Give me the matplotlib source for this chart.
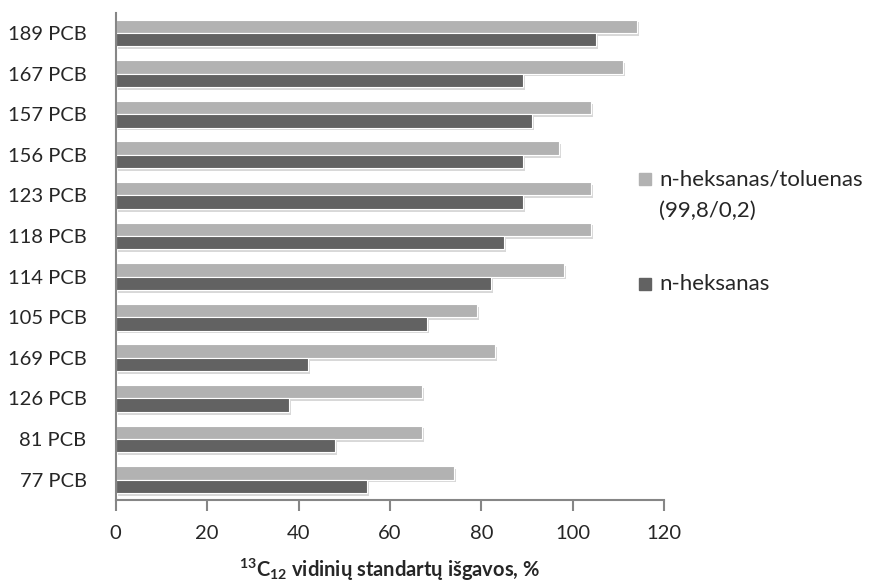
import numpy as np
import matplotlib
matplotlib.use("Agg")
import matplotlib.pyplot as plt
from matplotlib import patheffects as pe
from matplotlib.patches import Rectangle

plt.rcParams['font.family'] = ['Lato', 'DejaVu Sans']
plt.rcParams['mathtext.fontset'] = 'custom'
plt.rcParams['mathtext.rm'] = 'Lato:bold'
plt.rcParams['mathtext.default'] = 'rm'

# congeners, bottom to top
congeners = ["77 PCB", "81 PCB", "126 PCB", "169 PCB", "105 PCB", "114 PCB",
             "118 PCB", "123 PCB", "156 PCB", "157 PCB", "167 PCB", "189 PCB"]
hex_tol = [74, 67, 67, 83, 79, 98, 104, 104, 97, 104, 111, 114]
hexane = [55, 48, 38, 42, 68, 82, 85, 89, 89, 91, 89, 105]

series_labels = ["n-heksanas/toluenas\n(99,8/0,2)", "n-heksanas"]
light = "#b2b2b2"
dark = "#626262"
text_col = "#262626"
axis_col = "#868686"
fs = 14.5

fig = plt.figure(figsize=(8.74, 5.82), dpi=100)
ax = fig.add_axes([0.1324, 0.141, 0.6276, 0.837])

y = np.arange(len(congeners))
h = 0.33
shadow = [pe.SimplePatchShadow(offset=(1.5, -2), shadow_rgbFace="#909090", alpha=0.35),
          pe.Normal()]
b1 = ax.barh(y + h / 2, hex_tol, height=h, color=light, edgecolor="white", linewidth=0.8)
b2 = ax.barh(y - h / 2, hexane, height=h, color=dark, edgecolor="white", linewidth=0.8)
for bar in list(b1) + list(b2):
    bar.set_path_effects(shadow)

ax.set_xlim(0, 120)
ax.set_ylim(-0.5, 11.5)
ax.set_xticks(np.arange(0, 121, 20))
ax.set_yticks(y)
ax.set_yticklabels(congeners)
ax.tick_params(axis="y", length=0, pad=21, labelsize=fs, labelcolor=text_col)
ax.tick_params(axis="x", length=8, width=1.5, color=axis_col, pad=10,
               labelsize=fs, labelcolor=text_col)
for s in ["top", "right"]:
    ax.spines[s].set_visible(False)
for s in ["left", "bottom"]:
    ax.spines[s].set_color(axis_col)
    ax.spines[s].set_linewidth(1.5)

ax.set_xlabel(r"$^{13}$C$_{12}$ vidinių standartų išgavos, %", fontsize=14.5,
              fontweight="bold", color=text_col, labelpad=11)

# legend drawn by hand on the right, one text per line
W, H = 874, 582
line_gap = 32
for (ym, col, lab) in [(179, light, series_labels[0]), (284, dark, series_labels[1])]:
    fig.patches.append(Rectangle((639 / W, 1 - (ym + 6) / H), 12 / W, 12 / H,
                                 transform=fig.transFigure, color=col))
    for i, line in enumerate(lab.split("\n")):
        fig.text(659 / W, 1 - (ym + i * line_gap) / H, line, fontsize=16,
                 color=text_col, va="center", ha="left")

fig.savefig("out.png", dpi=100)
